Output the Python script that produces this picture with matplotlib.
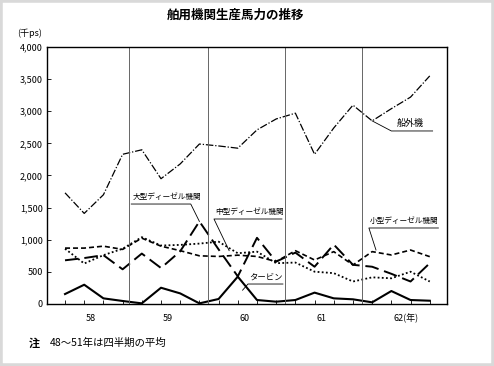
import numpy as np
import matplotlib.pyplot as plt
from matplotlib.patches import Rectangle

plt.rcParams['font.family'] = ['Noto Sans CJK JP', 'DejaVu Sans']

# quarterly data, 58 - 62
years = ['58', '59', '60', '61', '62']
outboard = [1730, 1410, 1700, 2330, 2400, 1950, 2180, 2490, 2460, 2425,
            2710, 2880, 2970, 2330, 2740, 3095, 2850, 3040, 3220, 3550]
large_diesel = [680, 715, 760, 540, 785, 560, 820, 1285, 850, 430,
                1030, 660, 800, 580, 925, 610, 580, 470, 350, 635]
small_diesel = [870, 870, 900, 850, 1025, 900, 830, 750, 740, 760,
                740, 660, 830, 685, 815, 607, 815, 763, 840, 737]
medium_diesel = [860, 630, 760, 860, 1040, 910, 920, 940, 970, 790,
                 815, 635, 645, 503, 480, 350, 415, 400, 503, 350]
turbine = [155, 300, 88, 47, 10, 253, 165, 10, 78, 426,
           62, 36, 62, 177, 88, 73, 26, 202, 62, 51]

x = np.arange(len(outboard))

fig = plt.figure(figsize=(4.94, 3.66), dpi=100)
ax = fig.add_axes([0.0951, 0.1694, 0.8098, 0.7022])

ax.plot(x, outboard, color='black', lw=0.9, dashes=(6, 1.5, 1, 1.5))
ax.plot(x, large_diesel, color='black', lw=1.4, dashes=(7, 3))
ax.plot(x, small_diesel, color='black', lw=1.2, dashes=(3, 1.8))
ax.plot(x, medium_diesel, color='black', lw=1.3, dashes=(1, 1.3))
ax.plot(x, turbine, color='black', lw=1.5)

# year dividers
for xv in [3.35, 7.45, 11.45, 15.45]:
    ax.axvline(xv, color='#666666', lw=0.7)

ax.set_xlim(-0.94, 19.9)
ax.set_ylim(0, 4000)
ax.set_yticks(np.arange(0, 4001, 500))
ax.set_yticklabels(['0', '500', '1,000', '1,500', '2,000', '2,500',
                    '3,000', '3,500', '4,000'], fontsize=6.5)
ax.set_xticks(x)
ax.set_xticklabels([])
ax.tick_params(axis='both', direction='in', length=3, width=0.6, pad=3)
for s in ax.spines.values():
    s.set_linewidth(1.0)

# year labels under the quarters
for i, y in enumerate(years):
    if i == len(years) - 1:
        ax.text(i * 4 + 1.1, -150, y + '(年)', ha='left', va='top', fontsize=6.5)
    else:
        ax.text(i * 4 + 1.35, -150, y, ha='center', va='top', fontsize=6.5)

fig.text(0.034, 0.91, '(千ps)', ha='left', va='center', fontsize=6.5)

# series labels with underline + leader
lw_lab = 0.6
fs_lab = 5.5
ax.text(3.5, 1600, '大型ディーゼル機関', fontsize=fs_lab, ha='left', va='bottom')
ax.plot([3.45, 6.55, 7], [1556, 1556, large_diesel[7]], color='black', lw=lw_lab)

ax.text(7.8, 1370, '中型ディーゼル機関', fontsize=fs_lab, ha='left', va='bottom')
ax.plot([11.3, 7.76, 8.55], [1323, 1323, 830], color='black', lw=lw_lab)

ax.text(9.6, 355, 'タービン', fontsize=fs_lab + 0.5, ha='left', va='bottom')
ax.plot([11.35, 9.53, 9.25], [311, 311, 215], color='black', lw=lw_lab)

ax.text(15.9, 1225, '小型ディーゼル機関', fontsize=fs_lab, ha='left', va='bottom')
ax.plot([19.45, 15.83, 16.2], [1183, 1183, 840], color='black', lw=lw_lab)

ax.text(17.3, 2735, '船外機', fontsize=6.5, ha='left', va='bottom')
ax.plot([19.15, 17.0, 16], [2693, 2693, outboard[16]], color='black', lw=lw_lab)

fig.text(0.476, 0.958, '舶用機関生産馬力の推移', ha='center', va='center',
         fontsize=9, fontweight='bold')
fig.text(0.058, 0.062, '注', ha='left', va='center', fontsize=8, fontweight='bold')
fig.text(0.100, 0.062, '48～51年は四半期の平均', ha='left', va='center', fontsize=7.5)

fig.patches.append(Rectangle((0, 0), 1, 1, transform=fig.transFigure,
                             fill=False, edgecolor='#d9d9d9', lw=4))

fig.savefig('out.png', dpi=100)
